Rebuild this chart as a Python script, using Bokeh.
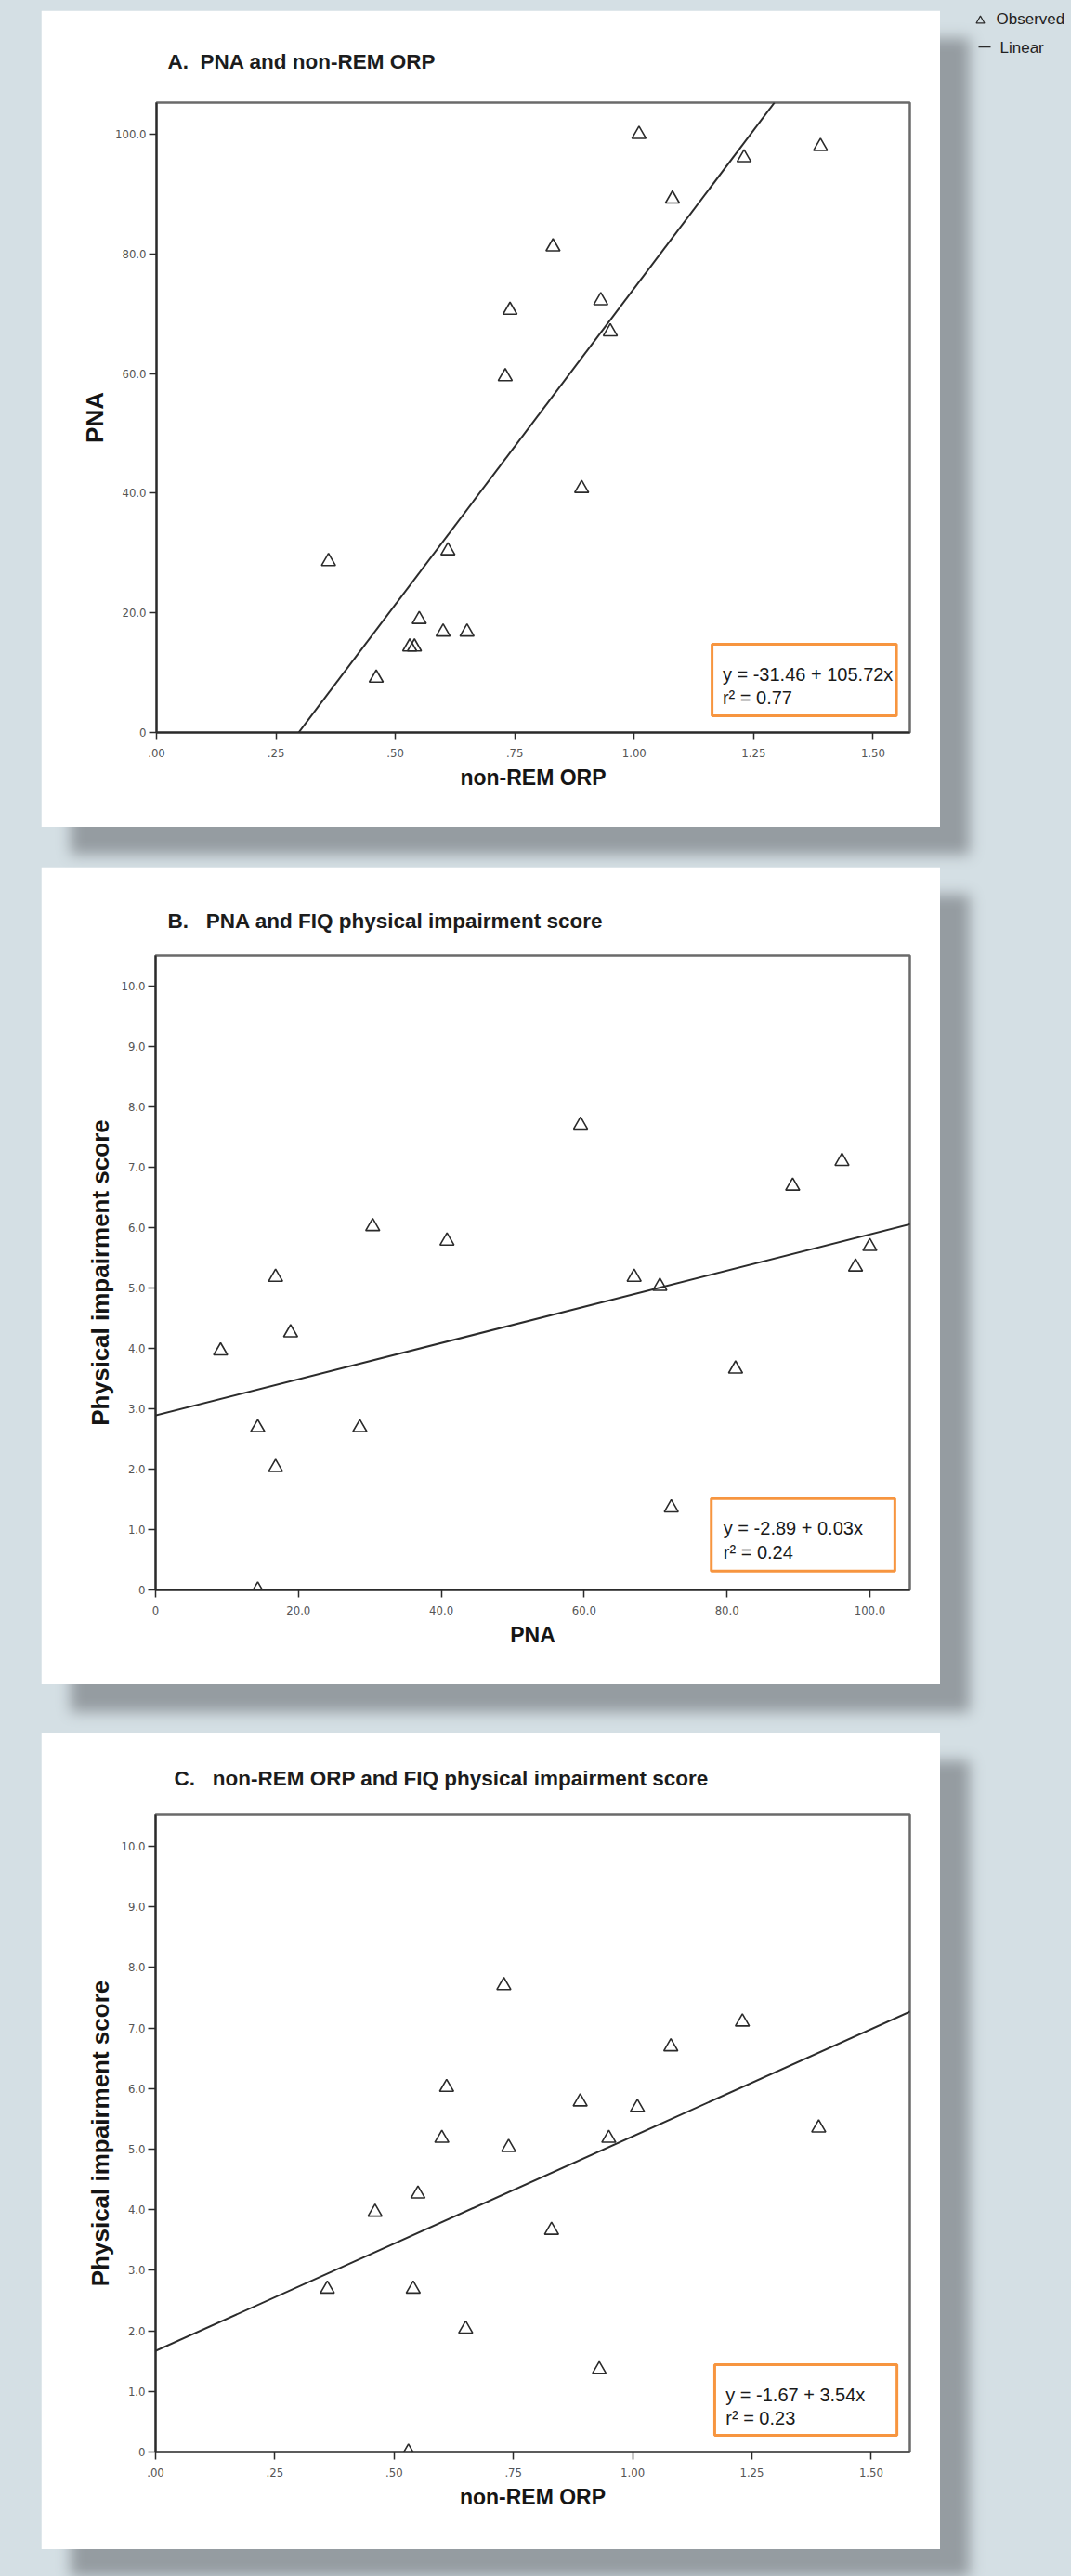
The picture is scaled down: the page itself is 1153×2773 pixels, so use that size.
from bokeh.plotting import figure
from bokeh.models import (Range1d, FixedTicker, Slope, BoxAnnotation, Label,
                          GlobalInlineStyleSheet)
from bokeh.core.properties import value
from bokeh.layouts import column, row
from bokeh.embed import file_html
from bokeh.resources import INLINE

# ---------------- data (18 subjects) ----------------
orp = [1.01, 1.39, 1.23, 1.08, 0.83, 0.93, 0.74, 0.95, 0.73,
       0.89, 0.61, 0.36, 0.55, 0.60, 0.65, 0.53, 0.54, 0.46]
pna = [100.0, 98.0, 96.1, 89.2, 81.2, 72.2, 70.6, 67.0, 59.5,
       40.8, 30.4, 28.6, 18.9, 16.8, 16.8, 14.3, 14.3, 9.1]
score = [5.69, 5.35, 7.10, 6.69, 3.66, 1.36, 5.03, 5.18, 7.70,
         5.78, 6.02, 2.69, 4.26, 5.18, 2.03, 0.0, 2.69, 3.96]

panel_letters = ["A.", "B.", "C."]
panel_titles = ["PNA and non-REM ORP",
                "PNA and FIQ physical impairment score",
                "non-REM ORP and FIQ physical impairment score"]
x_labels = ["non-REM ORP", "PNA", "non-REM ORP"]
y_labels = ["PNA", "Physical impairment score", "Physical impairment score"]

fit_intercepts = [-31.46, 2.89, 1.67]
fit_slopes = [105.72, 0.03, 3.54]
eq_texts = ["y = -31.46 + 105.72x", "y = -2.89 + 0.03x", "y = -1.67 + 3.54x"]
r2_texts = ["r\u00b2 = 0.77", "r\u00b2 = 0.24", "r\u00b2 = 0.23"]

orp_ticks = [0, 0.25, 0.5, 0.75, 1.0, 1.25, 1.5]
orp_tick_labels = [".00", ".25", ".50", ".75", "1.00", "1.25", "1.50"]
pna_ticks = [0, 20, 40, 60, 80, 100]
pna_tick_labels = ["0", "20.0", "40.0", "60.0", "80.0", "100.0"]
score_ticks = [0, 1, 2, 3, 4, 5, 6, 7, 8, 9, 10]
score_tick_labels = ["0", "1.0", "2.0", "3.0", "4.0", "5.0", "6.0", "7.0",
                     "8.0", "9.0", "10.0"]

legend_labels = ["Observed", "Linear"]

# ---------------- style ----------------
BG = "#d4dfe4"
SHADOW = "32px 30px 14px #959ca1"
INK = "#2b2b2b"
ORANGE = "#f7953f"
NARROW = "'Liberation Sans Narrow', 'DejaVu Sans Condensed', sans-serif"
ARIAL = "'Liberation Sans', Arial, sans-serif"
GAPS = ["\u00a0\u00a0", "\u00a0\u00a0\u00a0", "\u00a0\u00a0\u00a0"]


def make_panel(xs, ys, xr, yr, xt, xtl, yt, ytl, idx, w, h, borders,
               title_offset, title_standoff, box, text_xy):
    left, right, top, bottom = borders
    p = figure(width=w, height=h, x_range=Range1d(*xr), y_range=Range1d(*yr),
               toolbar_location=None, output_backend="svg",
               min_border_left=left, min_border_right=right,
               min_border_top=top, min_border_bottom=bottom,
               background_fill_color="white", border_fill_color="white",
               outline_line_color="#6a6a6a", outline_line_width=2.5,
               styles={"box-shadow": SHADOW})
    p.grid.visible = False
    p.title.text = panel_letters[idx] + GAPS[idx] + panel_titles[idx]
    p.title.align = "left"
    p.title.offset = title_offset
    p.title.standoff = title_standoff
    p.title.text_font = ARIAL
    p.title.text_font_size = "22.5px"
    p.title.text_font_style = "bold"
    p.title.text_color = "#1c1c1c"

    for ax, ticks, labels in ((p.xaxis[0], xt, xtl), (p.yaxis[0], yt, ytl)):
        ax.ticker = FixedTicker(ticks=ticks)
        ax.major_label_overrides = {t: l for t, l in zip(ticks, labels)}
        ax.minor_tick_line_color = None
        ax.major_tick_in = 0
        ax.major_tick_out = 8
        ax.major_tick_line_color = INK
        ax.major_tick_line_width = 1.5
        ax.axis_line_color = INK
        ax.axis_line_width = 2
        ax.major_label_text_font = NARROW
        ax.major_label_text_font_size = "13px"
        ax.major_label_text_color = "#555555"
        ax.axis_label_text_font_style = "bold"
        ax.axis_label_text_color = "#151515"
    p.xaxis.major_label_standoff = 9
    p.yaxis.major_label_standoff = 3
    p.xaxis.axis_label = x_labels[idx]
    p.xaxis.axis_label_text_font = ARIAL
    p.xaxis.axis_label_text_font_size = "23px"
    p.xaxis.axis_label_standoff = 6
    p.yaxis.axis_label = y_labels[idx]
    p.yaxis.axis_label_text_font = ARIAL
    p.yaxis.axis_label_text_font_size = "26px"
    p.yaxis.axis_label_standoff = 4

    p.add_layout(Slope(gradient=fit_slopes[idx], y_intercept=fit_intercepts[idx],
                       line_color=INK, line_width=2))
    p.scatter(xs, ys, marker="triangle", size=15, line_color=INK,
              line_width=1.6, fill_color=None)

    bl, br, bb, bt = box
    p.add_layout(BoxAnnotation(left=bl, right=br, bottom=bb, top=bt,
                               fill_color="white", fill_alpha=1.0,
                               line_color=ORANGE, line_width=3, line_alpha=1.0))
    tx, ty1, ty2 = text_xy
    for txt, ty in ((eq_texts[idx], ty1), (r2_texts[idx], ty2)):
        p.add_layout(Label(x=tx, y=ty, text=txt, text_font=ARIAL,
                           text_font_size="20px", text_color="#1a1a1a",
                           text_baseline="alphabetic"))
    return p


pA = make_panel(orp, pna, (0, 1.577), (0, 105.3), orp_ticks, orp_tick_labels,
                pna_ticks, pna_tick_labels, 0, 968, 879, (124, 33, 99, 102),
                12, 64, (1.163, 1.549, 2.8, 14.75), (1.185, 9.78, 5.90))
pB = make_panel(pna, score, (0, 105.6), (0, 10.51), pna_ticks, pna_tick_labels,
                score_ticks, score_tick_labels, 1, 968, 880, (123, 33, 95, 102),
                13, 50, (77.8, 103.5, 0.31, 1.51), (79.5, 1.02, 0.63))
pC = make_panel(orp, score, (0, 1.581), (0, 10.52), orp_ticks, orp_tick_labels,
                score_ticks, score_tick_labels, 2, 968, 879, (116, 33, 88, 105),
                20, 54, (1.172, 1.554, 0.276, 1.44), (1.195, 0.95, 0.567))

pA.margin = (11, 0, 0, 44)
pB.margin = (43, 0, 0, 44)
pC.margin = (52, 0, 29, 44)

# ---------------- legend (outside the cards) ----------------
leg = figure(width=112, height=80, x_range=Range1d(0, 112), y_range=Range1d(80, 0),
             title=None, toolbar_location=None, output_backend="svg",
             min_border=0, x_axis_type=None, y_axis_type=None,
             outline_line_color=None, background_fill_color=None,
             border_fill_color=None)
leg.grid.visible = False
leg.scatter([14], [29], marker="triangle", size=9, line_color=INK,
            line_width=1.2, fill_color=None)
leg.line([12, 25], [47.5, 47.5], line_color=INK, line_width=2)
leg.text(x=[31, 35], y=[28, 48.5], text=legend_labels, text_font=value(ARIAL),
         text_font_size="17px", text_color="#222222", text_baseline="middle",
         text_align="left")
leg.margin = (0, 0, 0, 29)

root = column(row(pA, leg, spacing=0), pB, pC, spacing=0,
              width=1153, height=2773,
              styles={"background-color": BG},
              stylesheets=[GlobalInlineStyleSheet(
                  css="html, body {margin:0; padding:0; background:%s;}" % BG)])

open("out.html", "w").write(file_html(root, INLINE))
